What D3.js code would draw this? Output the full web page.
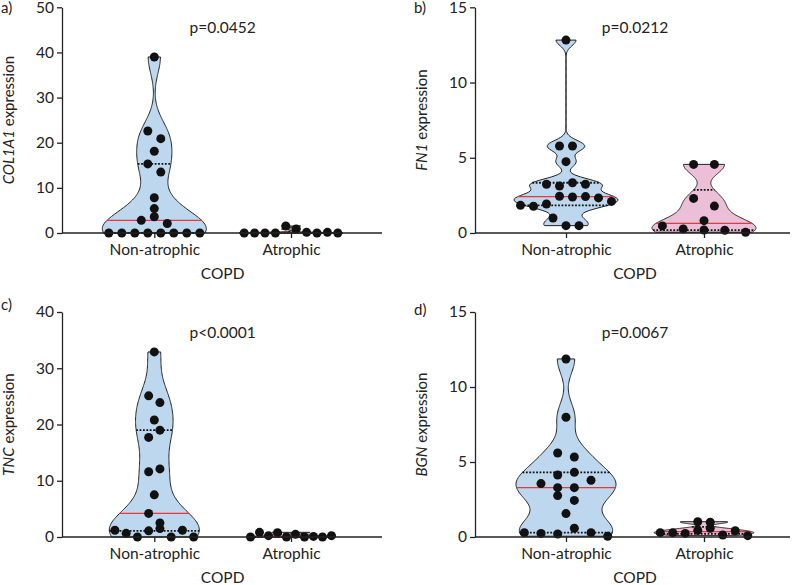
<!DOCTYPE html>
<html><head><meta charset="utf-8">
<script src="https://cdn.jsdelivr.net/npm/d3@7"></script>
<style>
body{margin:0;background:#fff;}
svg text{font-family:Lato,"Noto Sans",sans-serif;fill:#222;}
</style></head><body>
<svg id="chart" width="794" height="585"></svg>
<script>
// ---------- data ----------
const categories = ["Non-atrophic","Atrophic"];
const xAxisTitle = "COPD";
const panelLetters = ["a)","b)","c)","d)"];
const geneNames = ["COL1A1","FN1","TNC","BGN"];
const pValueLabels = ["p=0.0452","p=0.0212","p<0.0001","p=0.0067"];
const yMaxima = [50,15,40,15];
const yTickValues = [[0,10,20,30,40,50],[0,5,10,15],[0,10,20,30,40],[0,5,10,15]];

const col1a1NonAtrophic = [0,0,0,0,0,0,0,0, 2.8,3.6,2.1, 5.4, 7.8, 15.3,13.5, 18.1, 22.6,20.9, 39.0];
const col1a1Atrophic    = [0,0,0,0,1.55,0.88,0.15,0,0.15,0];
const fn1NonAtrophic    = [1.0,0.49,0.49, 1.84,1.78,1.93,2.44,2.39,2.42,2.33,2.1, 3.24,3.12,3.34,3.24, 4.74, 5.78,5.78, 12.82];
const fn1Atrophic       = [0.47,0.27,0.2,0.18,0.05, 0.82, 2.3,1.79, 4.56,4.56];
const tncNonAtrophic    = [1.2,0.65,0,1.1,1.5,0,1.2,0, 4.2,2.5, 7.5, 11.6,12.1, 17.7,19.0, 20.8, 25.1,23.9, 32.9];
const tncAtrophic       = [0,0.83,0.24,0.77,0,0.47,0,0.1,0,0.24];
const bgnNonAtrophic    = [0.29,0.24,0.2,0.58,0.29,0.05, 1.56, 2.76,2.44, 3.56,3.29,3.29,3.78, 4.13,4.31, 5.6,5.33, 7.98, 11.87];
const bgnAtrophic       = [0.29,0.29,0.24,0.44,0.58,0.13,0.42,0.09, 1.02,0.98];

const seriesByPanel = [
  [col1a1NonAtrophic, col1a1Atrophic],
  [fn1NonAtrophic, fn1Atrophic],
  [tncNonAtrophic, tncAtrophic],
  [bgnNonAtrophic, bgnAtrophic]
];

// ---------- layout / style ----------
const layout = [
  {axisX:62,  axisEnd:382, yTop:7.3, yBottom:233, cat:[154.3,291], colW:104, rowGap:9,  letterY:13},
  {axisX:475, axisEnd:790, yTop:7.3, yBottom:233, cat:[566,704],   colW:104, rowGap:11, letterY:13},
  {axisX:62,  axisEnd:382, yTop:312, yBottom:537, cat:[154.3,291], colW:90,  rowGap:10, letterY:310},
  {axisX:475, axisEnd:790, yTop:312, yBottom:537, cat:[566,704],   colW:100, rowGap:10, letterY:315}
];
const fills = ["#bdd7ee", "#ecbfd9"];
const ink = "#222";
const medianColor = "#e8373d";
const dotR = 4.5;
const gammaW = 0.9;
const bwFactor = 0.56;

const svg = d3.select("#chart");

function prismQuantile(sorted, p){
  const n = sorted.length, pos = p*(n+1), lo = Math.floor(pos);
  if (lo < 1) return sorted[0];
  if (lo >= n) return sorted[n-1];
  return sorted[lo-1] + (pos-lo)*(sorted[lo]-sorted[lo-1]);
}

seriesByPanel.forEach((series, pi) => {
  const L = layout[pi];
  const g = svg.append("g");
  const y = d3.scaleLinear().domain([0, yMaxima[pi]]).range([L.yBottom, L.yTop]);
  const x = d3.scalePoint().domain(categories).range(L.cat);

  series.forEach((vals, ci) => {
    const cx = x(categories[ci]);
    const sorted = vals.slice().sort((a,b)=>a-b);
    const n = vals.length;
    const q1 = prismQuantile(sorted, 0.25), med = prismQuantile(sorted, 0.5), q3 = prismQuantile(sorted, 0.75);
    const sd = d3.deviation(vals);
    let s = Math.min(sd, (q3-q1)/1.34);
    if (!(s > 0)) s = sd;
    const h = bwFactor * s * Math.pow(n, -0.2);
    const dens = v => d3.sum(vals, d => Math.exp(-0.5*((v-d)/h)**2));
    const vmin = sorted[0], vmax = sorted[n-1];
    const samples = d3.range(0, 161).map(i => vmin + (vmax-vmin)*i/160);
    const dvals = samples.map(dens);
    const maxD = d3.max(dvals);
    const half = v => (L.colW/2) * Math.pow(dens(v)/maxD, gammaW);
    const prof = samples.map((v,i) => ({v, w:(L.colW/2)*Math.pow(dvals[i]/maxD, gammaW)}));

    const area = d3.area().y(d => y(d.v)).x0(d => cx - d.w).x1(d => cx + d.w);
    g.append("path").datum(prof).attr("d", area)
      .attr("fill", fills[ci]).attr("stroke", ink).attr("stroke-width", 1);

    // quartiles
    [q1, q3].forEach(q => {
      g.append("line").attr("x1", cx - half(q)).attr("x2", cx + half(q))
        .attr("y1", y(q)).attr("y2", y(q))
        .attr("stroke", "#111").attr("stroke-width", 1.8).attr("stroke-dasharray", "1.8,1.6");
    });
    g.append("line").attr("x1", cx - half(med)).attr("x2", cx + half(med))
      .attr("y1", y(med)).attr("y2", y(med))
      .attr("stroke", medianColor).attr("stroke-width", 1.2);

    // dots: rows of near-equal values, spread horizontally
    const items = vals.map((v,i)=>({v,i})).sort((a,b)=> a.v-b.v || a.i-b.i);
    const rows = [];
    items.forEach(it => {
      const r = rows[rows.length-1];
      if (!r || (y(r.start) - y(it.v)) > L.rowGap) rows.push({start:it.v, pts:[it]});
      else r.pts.push(it);
    });
    const maxRow = d3.max(rows, r => r.pts.length);
    const spacing = L.colW / maxRow;
    const dots = [];
    rows.forEach(r => {
      const pts = r.pts.slice().sort((a,b)=>a.i-b.i);
      pts.forEach((p,k) => dots.push({v:p.v, dx:(k-(pts.length-1)/2)*spacing}));
    });
    g.selectAll(null).data(dots).enter().append("circle")
      .attr("cx", d => cx + d.dx).attr("cy", d => y(d.v)).attr("r", dotR)
      .attr("fill", "#111");
  });

  // y axis
  const ya = g.append("g").attr("transform", `translate(${L.axisX},0)`)
    .call(d3.axisLeft(y).tickValues(yTickValues[pi]).tickSize(5).tickSizeOuter(0).tickPadding(3));
  ya.select(".domain").attr("stroke", ink).attr("stroke-width", 1.3);
  ya.selectAll(".tick line").attr("stroke", ink).attr("stroke-width", 1.3);
  ya.selectAll(".tick text").attr("fill", "#222").style("font-size", "15.5px").style("font-family", "Lato");

  // x axis
  g.append("line").attr("x1", L.axisX).attr("x2", L.axisEnd).attr("y1", L.yBottom).attr("y2", L.yBottom)
    .attr("stroke", ink).attr("stroke-width", 1.3);
  const xa = g.append("g").attr("transform", `translate(0,${L.yBottom})`)
    .call(d3.axisBottom(x).tickSize(5).tickSizeOuter(0).tickPadding(6));
  xa.select(".domain").remove();
  xa.selectAll(".tick line").attr("stroke", ink).attr("stroke-width", 1.3);
  xa.selectAll(".tick text").attr("fill", "#222").style("font-size", "15.5px").style("font-family", "Lato");

  // titles
  g.append("text").attr("x", (L.cat[0]+L.cat[1])/2).attr("y", L.yBottom + 46)
    .attr("text-anchor", "middle").style("font-size", "15.5px").text(xAxisTitle);
  g.append("text").attr("x", (L.cat[0]+L.cat[1])/2).attr("y", L.yTop + 26)
    .attr("text-anchor", "middle").style("font-size", "15.5px").text(pValueLabels[pi]);
  g.append("text").attr("x", L.axisX - 61).attr("y", L.letterY)
    .style("font-size", "15px").text(panelLetters[pi]);
  const yl = g.append("text").attr("transform", "rotate(-90)")
    .attr("x", -(L.yTop + L.yBottom)/2).attr("y", L.axisX - 48)
    .attr("text-anchor", "middle").style("font-size", "15px");
  yl.append("tspan").style("font-style", "italic").text(geneNames[pi]);
  yl.append("tspan").text(" expression");
});
</script>
</body></html>
